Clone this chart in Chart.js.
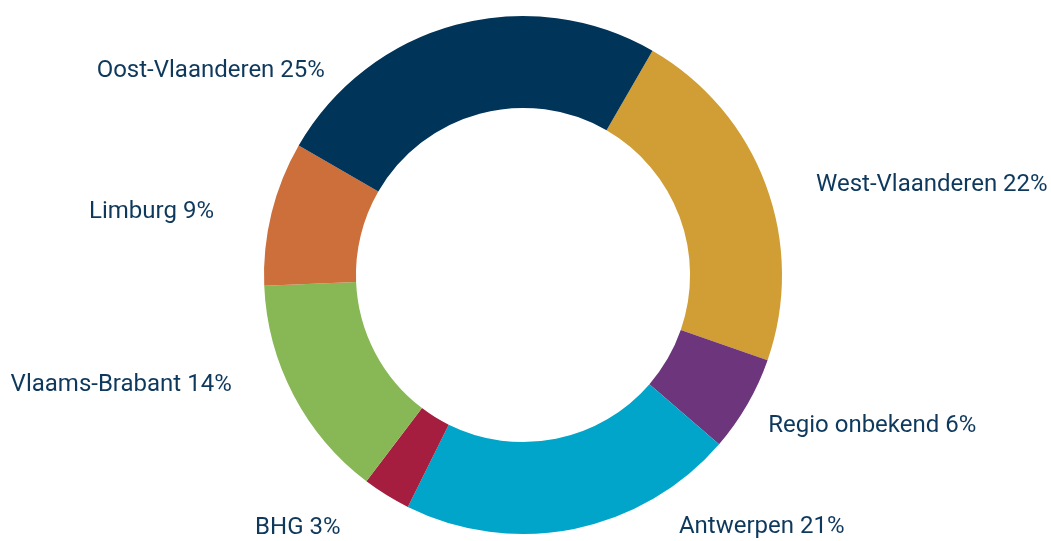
<!DOCTYPE html>
<html>
<head>
<meta charset="utf-8">
<script src="https://cdn.jsdelivr.net/npm/chart.js@4/dist/chart.umd.min.js"></script>
<style>
  html, body { margin: 0; padding: 0; background: #ffffff; }
  #wrap { width: 1051px; height: 541px; position: relative; }
</style>
</head>
<body>
<div id="wrap"><canvas id="c" width="1051" height="541"></canvas></div>
<script>
// ---- data ----
const categories = ['West-Vlaanderen', 'Regio onbekend', 'Antwerpen', 'BHG', 'Vlaams-Brabant', 'Limburg', 'Oost-Vlaanderen'];
const shares = [22, 6, 21, 3, 14, 9, 25];

// ---- styling / layout ----
const sliceColors = ['#D09E34', '#6C357C', '#00A5C9', '#A51E40', '#88B856', '#CD6F3A', '#003458'];
const labelColor = '#0E395D';
// label anchor: angle (deg, clockwise from top) and distance from centre
const labelAngle = [74, 122.6, 148.9, 215.2, 248.3, 280.4, 315];
const labelDist  = [304.8, 291.1, 301.8, 316.5, 313.5, 314.2, 280.2];

const labelPlugin = {
  id: 'outerLabels',
  afterDatasetsDraw(chart) {
    const ctx = chart.ctx;
    const meta = chart.getDatasetMeta(0);
    const arc0 = meta.data[0];
    const cx = arc0.x, cy = arc0.y;
    ctx.save();
    ctx.font = '24px Roboto';
    ctx.fillStyle = labelColor;
    ctx.textBaseline = 'alphabetic';
    categories.forEach((name, i) => {
      const a = (labelAngle[i] - 90) * Math.PI / 180;
      const x = cx + Math.cos(a) * labelDist[i];
      const y = cy + Math.sin(a) * labelDist[i];
      ctx.textAlign = labelAngle[i] > 180 ? 'right' : 'left';
      ctx.fillText(name + ' ' + shares[i] + '%', x, y);
    });
    ctx.restore();
  }
};

new Chart(document.getElementById('c'), {
  type: 'doughnut',
  data: {
    labels: categories,
    datasets: [{
      data: shares,
      backgroundColor: sliceColors,
      borderWidth: 0,
      hoverOffset: 0
    }]
  },
  options: {
    responsive: false,
    animation: false,
    rotation: 30,
    cutout: '64.5%',
    layout: { padding: { top: 16, bottom: 7, left: 0, right: 5 } },
    plugins: {
      legend: { display: false },
      tooltip: { enabled: false }
    }
  },
  plugins: [labelPlugin]
});
</script>
</body>
</html>
